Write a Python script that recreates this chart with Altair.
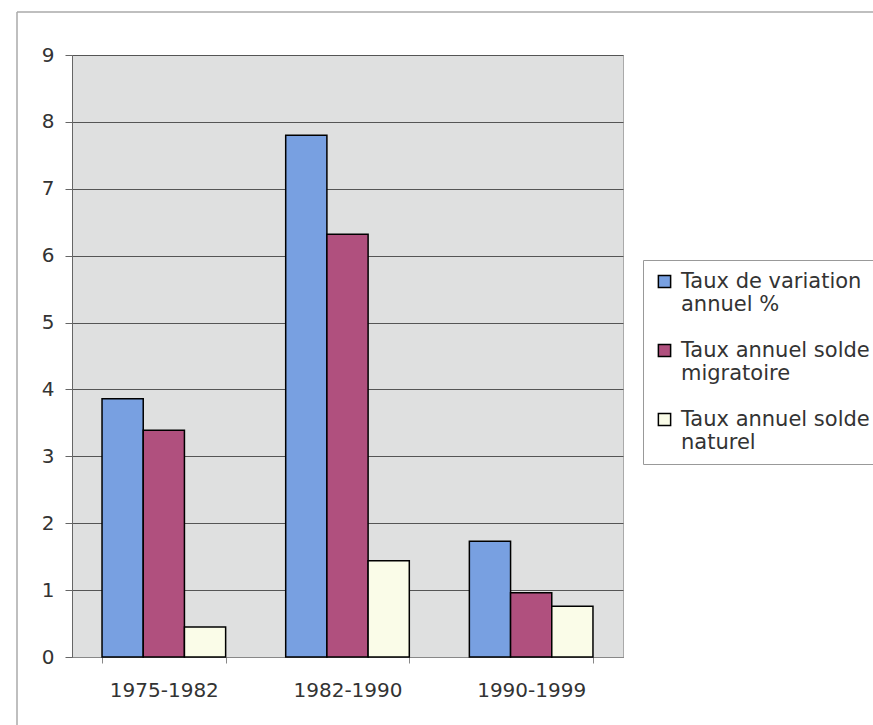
import altair as alt
import pandas as pd

# ---- data ----
periods = ["1975-1982", "1982-1990", "1990-1999"]
series = [
    "Taux de variation annuel %",
    "Taux annuel solde migratoire",
    "Taux annuel solde naturel",
]
legend_lines = [
    ["Taux de variation", "annuel %"],
    ["Taux annuel solde", "migratoire"],
    ["Taux annuel solde", "naturel"],
]
variation = [3.86, 7.80, 1.73]
migratoire = [3.39, 6.32, 0.96]
naturel = [0.45, 1.44, 0.76]
y_ticks = [0, 1, 2, 3, 4, 5, 6, 7, 8, 9]

colors = ["#78a0e1", "#b0507e", "#fafce8"]

rows = []
for i, p in enumerate(periods):
    for s, vals in zip(series, [variation, migratoire, naturel]):
        rows.append({"period": p, "serie": s, "value": vals[i]})
df = pd.DataFrame(rows)

# legend label expression (two lines per entry)
label_expr = ""
for s, lines in zip(series, legend_lines):
    arr = "[" + ",".join("'" + l + "'" for l in lines) + "]"
    label_expr += f"datum.label == '{s}' ? {arr} : "
label_expr += "datum.label"

FONT = "DejaVu Sans"
TXT = "#333333"

bars = alt.Chart(df).mark_bar(stroke="black", strokeWidth=1.5).encode(
    x=alt.X(
        "period:N",
        sort=periods,
        title=None,
        scale=alt.Scale(paddingInner=0.327, paddingOuter=0.1635),
        axis=alt.Axis(
            labelAngle=0,
            tickBand="extent",
            tickSize=6,
            tickColor="#888888",
            domainColor="#888888",
            labelPadding=17,
            labelFont=FONT,
            labelFontSize=20,
            labelColor=TXT,
            grid=False,
        ),
    ),
    xOffset=alt.XOffset(
        "serie:N", sort=series, scale=alt.Scale(paddingInner=0, paddingOuter=0)
    ),
    y=alt.Y(
        "value:Q",
        title=None,
        scale=alt.Scale(domain=[0, 9], nice=False),
        axis=alt.Axis(
            values=y_ticks,
            tickSize=7,
            tickColor="#666666",
            domainColor="#666666",
            labelPadding=11,
            labelFont=FONT,
            labelFontSize=20,
            labelColor=TXT,
            grid=True,
            gridColor="#555555",
            gridWidth=1,
        ),
    ),
    color=alt.Color(
        "serie:N",
        scale=alt.Scale(domain=series, range=colors),
        legend=alt.Legend(
            title=None,
            orient="none",
            legendX=571,
            legendY=205,
            padding=11,
            fillColor="white",
            strokeColor="#999999",
            symbolType="square",
            symbolSize=150,
            symbolStrokeColor="black",
            symbolStrokeWidth=1.5,
            symbolOpacity=1,
            labelFont=FONT,
            labelFontSize=21,
            labelColor=TXT,
            labelOffset=6,
            labelLimit=500,
            rowPadding=24,
            labelExpr=label_expr,
        ),
    ),
)

frame_df = pd.DataFrame({"k": [0]})
frame_left = alt.Chart(frame_df).mark_rule(color="#aaaaaa", strokeWidth=1.5).encode(
    x=alt.value(-55), y=alt.value(-43), y2=alt.value(700)
)
frame_top = alt.Chart(frame_df).mark_rule(color="#aaaaaa", strokeWidth=1.5).encode(
    x=alt.value(-55), x2=alt.value(900), y=alt.value(-43)
)

chart = alt.layer(frame_left, frame_top, bars).properties(
    width=551,
    height=602,
    padding={"left": 72, "top": 55, "right": 250, "bottom": 68},
    autosize=alt.AutoSizeParams(type="none"),
).configure(
    background="white",
    view=alt.ViewConfig(fill="#dfe0e0", stroke="#aaaaaa"),
)

chart.save("out.html", embed_options={"renderer": "svg", "actions": False})
